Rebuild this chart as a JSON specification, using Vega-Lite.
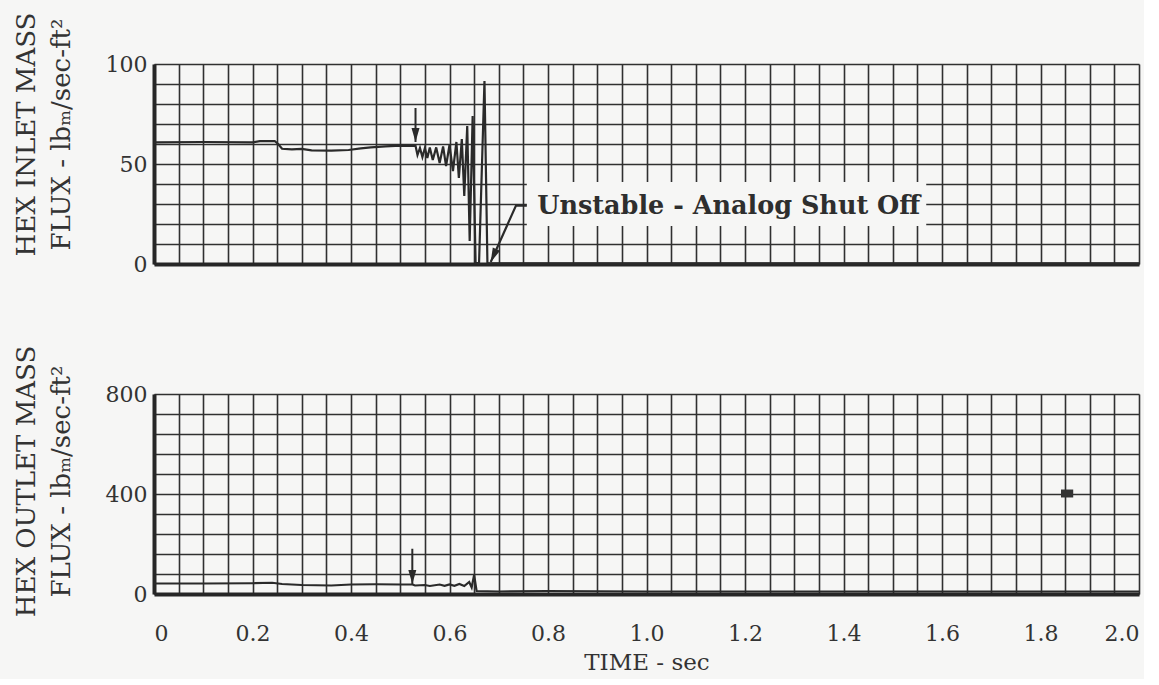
{
  "$schema": "https://vega.github.io/schema/vega-lite/v6.json",
  "background": "#f6f6f5",
  "padding": {"left": 13, "top": 12, "right": 0, "bottom": 5},
  "spacing": 70,
  "config": {
    "view": {"stroke": null},
    "font": "DejaVu Serif",
    "axis": {
      "ticks": false,
      "grid": true,
      "gridColor": "#303030",
      "gridWidth": 1.6,
      "gridOpacity": 1,
      "domainColor": "#262626",
      "domainWidth": 4,
      "labelFont": "DejaVu Serif",
      "labelFontSize": 22,
      "labelColor": "#333333",
      "labelOverlap": false,
      "labelBound": false,
      "titleFont": "DejaVu Serif",
      "titleFontSize": 26,
      "titleFontWeight": "normal",
      "titleColor": "#333333"
    }
  },
  "datasets": {
    "inlet": [
      {"t": 0, "v": 60.8}, {"t": 0.1, "v": 61.0}, {"t": 0.2, "v": 60.8}, {"t": 0.215, "v": 61.4},
      {"t": 0.245, "v": 61.5}, {"t": 0.252, "v": 60.0}, {"t": 0.26, "v": 57.6}, {"t": 0.28, "v": 57.3},
      {"t": 0.3, "v": 57.6}, {"t": 0.32, "v": 56.8}, {"t": 0.36, "v": 56.7}, {"t": 0.395, "v": 57.0},
      {"t": 0.42, "v": 57.8}, {"t": 0.44, "v": 58.3}, {"t": 0.47, "v": 58.8}, {"t": 0.5, "v": 59.2},
      {"t": 0.531, "v": 59.1}, {"t": 0.535, "v": 54.5}, {"t": 0.54, "v": 58.0}, {"t": 0.545, "v": 53.5},
      {"t": 0.55, "v": 58.0}, {"t": 0.555, "v": 53.0}, {"t": 0.56, "v": 58.2}, {"t": 0.566, "v": 52.0},
      {"t": 0.573, "v": 58.3}, {"t": 0.58, "v": 50.5}, {"t": 0.587, "v": 58.8}, {"t": 0.593, "v": 49.0},
      {"t": 0.6, "v": 59.5}, {"t": 0.607, "v": 46.5}, {"t": 0.614, "v": 61.0}, {"t": 0.619, "v": 43.0},
      {"t": 0.625, "v": 62.5}, {"t": 0.63, "v": 34.0}, {"t": 0.636, "v": 69.0}, {"t": 0.641, "v": 11.5},
      {"t": 0.647, "v": 74.0}, {"t": 0.653, "v": 0.5}, {"t": 0.66, "v": 0.5}, {"t": 0.671, "v": 91.5},
      {"t": 0.677, "v": 0.3}, {"t": 2.0, "v": 0.3}
    ],
    "outlet": [
      {"t": 0, "v": 42}, {"t": 0.1, "v": 42}, {"t": 0.2, "v": 43}, {"t": 0.24, "v": 45},
      {"t": 0.26, "v": 40}, {"t": 0.3, "v": 36}, {"t": 0.36, "v": 34}, {"t": 0.4, "v": 38},
      {"t": 0.45, "v": 39}, {"t": 0.5, "v": 38}, {"t": 0.525, "v": 38}, {"t": 0.53, "v": 34},
      {"t": 0.55, "v": 36}, {"t": 0.56, "v": 32}, {"t": 0.58, "v": 38}, {"t": 0.59, "v": 33},
      {"t": 0.6, "v": 38}, {"t": 0.61, "v": 33}, {"t": 0.62, "v": 40}, {"t": 0.63, "v": 32},
      {"t": 0.64, "v": 48}, {"t": 0.645, "v": 26}, {"t": 0.65, "v": 76}, {"t": 0.655, "v": 12},
      {"t": 0.7, "v": 10}, {"t": 0.8, "v": 12}, {"t": 1.0, "v": 10}, {"t": 1.5, "v": 10}, {"t": 2.0, "v": 10}
    ],
    "inletArrow": [{"t": 0.531, "v": 78, "v2": 61}],
    "outletArrow": [{"t": 0.5245, "v": 181, "v2": 40}],
    "calloutBox": [{"t": 0.757, "t2": 1.568, "v": 19, "v2": 41}],
    "calloutLeader": [
      {"t": 0.6837, "v": 1.0}, {"t": 0.735, "v": 29.2}, {"t": 0.757, "v": 29.2}
    ],
    "calloutTip": [{"t": 0.6837, "v": 1.0}],
    "calloutText": [{"t": 0.778, "v": 29.2, "label": "Unstable - Analog Shut Off"}],
    "calMark": [{"t": 1.854, "v": 402}]
  },
  "vconcat": [
    {
      "width": 985,
      "height": 200,
      "layer": [
        {
          "data": {"name": "inlet"},
          "mark": {"type": "line", "color": "#2a2a2a", "strokeWidth": 2.2, "interpolate": "linear"},
          "encoding": {
            "x": {
              "field": "t", "type": "quantitative",
              "scale": {"domain": [0, 2], "nice": false},
              "axis": {
                "title": null, "labels": false, "tickCount": 100,
                "values": [0,0.05,0.1,0.15,0.2,0.25,0.3,0.35,0.4,0.45,0.5,0.55,0.6,0.65,0.7,0.75,0.8,0.85,0.9,0.95,1,1.05,1.1,1.15,1.2,1.25,1.3,1.35,1.4,1.45,1.5,1.55,1.6,1.65,1.7,1.75,1.8,1.85,1.9,1.95,2]
              }
            },
            "y": {
              "field": "v", "type": "quantitative",
              "scale": {"domain": [0, 100], "nice": false},
              "axis": {
                "values": [0,10,20,30,40,50,60,70,80,90,100],
                "tickCount": 100,
                "labelExpr": "datum.value % 50 == 0 ? datum.label : ''",
                "labelPadding": 7,
                "title": ["HEX INLET MASS", "FLUX - lbₘ/sec-ft²"],
                "titleX": -128,
                "titleY": 70,
                "titleAngle": -90,
                "titleAlign": "center",
                "titleBaseline": "middle",
                "titleLineHeight": 35
              }
            }
          }
        },
        {
          "data": {"name": "calloutBox"},
          "mark": {"type": "rect", "color": "#f6f6f5"},
          "encoding": {
            "x": {"field": "t", "type": "quantitative"},
            "x2": {"field": "t2"},
            "y": {"field": "v", "type": "quantitative"},
            "y2": {"field": "v2"}
          }
        },
        {
          "data": {"name": "calloutLeader"},
          "mark": {"type": "line", "color": "#2a2a2a", "strokeWidth": 2.2},
          "encoding": {
            "x": {"field": "t", "type": "quantitative"},
            "y": {"field": "v", "type": "quantitative"}
          }
        },
        {
          "data": {"name": "calloutTip"},
          "mark": {"type": "point", "shape": "M -1,-3.5 L 1,-3.5 L 0,0 Z", "size": 64, "filled": true, "color": "#2a2a2a", "opacity": 1, "angle": 24},
          "encoding": {
            "x": {"field": "t", "type": "quantitative"},
            "y": {"field": "v", "type": "quantitative"}
          }
        },
        {
          "data": {"name": "calloutText"},
          "mark": {"type": "text", "align": "left", "baseline": "middle", "font": "DejaVu Serif", "fontWeight": "bold", "fontSize": 25.5, "color": "#2e2e2e"},
          "encoding": {
            "x": {"field": "t", "type": "quantitative"},
            "y": {"field": "v", "type": "quantitative"},
            "text": {"field": "label"}
          }
        },
        {
          "data": {"name": "inletArrow"},
          "mark": {"type": "rule", "color": "#2a2a2a", "strokeWidth": 2},
          "encoding": {
            "x": {"field": "t", "type": "quantitative"},
            "y": {"field": "v", "type": "quantitative"},
            "y2": {"field": "v2"}
          }
        },
        {
          "data": {"name": "inletArrow"},
          "mark": {"type": "point", "shape": "M -1,-3.5 L 1,-3.5 L 0,0 Z", "size": 64, "filled": true, "color": "#2a2a2a", "opacity": 1},
          "encoding": {
            "x": {"field": "t", "type": "quantitative"},
            "y": {"field": "v2", "type": "quantitative"}
          }
        }
      ]
    },
    {
      "width": 985,
      "height": 200,
      "layer": [
        {
          "data": {"name": "outlet"},
          "mark": {"type": "line", "color": "#2a2a2a", "strokeWidth": 2.2},
          "encoding": {
            "x": {
              "field": "t", "type": "quantitative",
              "scale": {"domain": [0, 2], "nice": false},
              "axis": {
                "values": [0,0.05,0.1,0.15,0.2,0.25,0.3,0.35,0.4,0.45,0.5,0.55,0.6,0.65,0.7,0.75,0.8,0.85,0.9,0.95,1,1.05,1.1,1.15,1.2,1.25,1.3,1.35,1.4,1.45,1.5,1.55,1.6,1.65,1.7,1.75,1.8,1.85,1.9,1.95,2],
                "tickCount": 100,
                "labelExpr": "round(datum.value * 20) % 4 == 0 ? (datum.value == 0 ? '0' : format(datum.value, '.1f')) : ''",
                "labelPadding": 29,
                "title": "TIME  -  sec",
                "titleFontSize": 23,
                "titlePadding": 7
              }
            },
            "y": {
              "field": "v", "type": "quantitative",
              "scale": {"domain": [0, 800], "nice": false},
              "axis": {
                "values": [0,80,160,240,320,400,480,560,640,720,800],
                "tickCount": 100,
                "labelExpr": "datum.value % 400 == 0 ? datum.label : ''",
                "format": "d",
                "labelPadding": 7,
                "title": ["HEX OUTLET MASS", "FLUX - lbₘ/sec-ft²"],
                "titleX": -128,
                "titleY": 87,
                "titleAngle": -90,
                "titleAlign": "center",
                "titleBaseline": "middle",
                "titleLineHeight": 35
              }
            }
          }
        },
        {
          "data": {"name": "outletArrow"},
          "mark": {"type": "rule", "color": "#2a2a2a", "strokeWidth": 2},
          "encoding": {
            "x": {"field": "t", "type": "quantitative"},
            "y": {"field": "v", "type": "quantitative"},
            "y2": {"field": "v2"}
          }
        },
        {
          "data": {"name": "outletArrow"},
          "mark": {"type": "point", "shape": "M -1,-3.5 L 1,-3.5 L 0,0 Z", "size": 64, "filled": true, "color": "#2a2a2a", "opacity": 1},
          "encoding": {
            "x": {"field": "t", "type": "quantitative"},
            "y": {"field": "v2", "type": "quantitative"}
          }
        },
        {
          "data": {"name": "calMark"},
          "mark": {"type": "point", "shape": "M -1,-0.65 L 1,-0.65 L 1,0.65 L -1,0.65 Z", "size": 150, "filled": true, "color": "#333333", "opacity": 1},
          "encoding": {
            "x": {"field": "t", "type": "quantitative"},
            "y": {"field": "v", "type": "quantitative"}
          }
        }
      ]
    }
  ]
}
